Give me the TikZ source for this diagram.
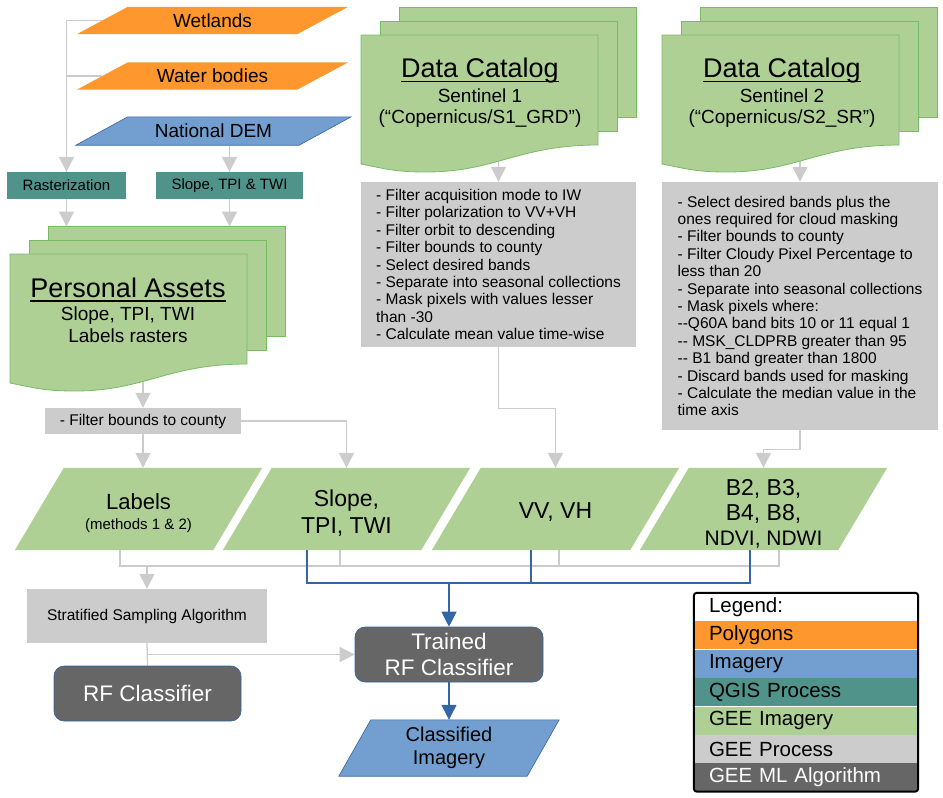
\documentclass[tikz,border=0pt]{standalone}
\usepackage{fontspec}
\setmainfont{Liberation Sans}
\usetikzlibrary{arrows.meta,positioning}

\definecolor{polyorange}{HTML}{FF972F}
\definecolor{imgblue}{HTML}{729FCF}
\definecolor{imgedge}{HTML}{3465A4}
\definecolor{qgisteal}{HTML}{50938A}
\definecolor{geegreen}{HTML}{AFD095}
\definecolor{geeedge}{HTML}{77BC65}
\definecolor{geegrey}{HTML}{CCCCCC}
\definecolor{mlgrey}{HTML}{666666}
\definecolor{linkgrey}{HTML}{CCCCCC}

\pgfdeclarelayer{background}
\pgfdeclarelayer{shapes}
\pgfsetlayers{background,shapes,main}

\tikzstyle{polyshape} = [rectangle, minimum width=220pt, minimum height=27pt, inner sep=1pt, font=\fontsize{19}{22}\selectfont]
\tikzstyle{imagery} = [fill=imgblue, draw=imgedge, line width=0.6pt]
\tikzstyle{qgis} = [rectangle, fill=qgisteal, minimum height=27pt, inner sep=1pt, font=\fontsize{15}{18}\selectfont]
\tikzstyle{geeimg} = [rectangle, minimum width=198pt, minimum height=82pt, inner sep=0pt]
\tikzstyle{geetext} = [inner sep=1pt, align=center, font=\fontsize{23}{27}\selectfont]
\tikzstyle{geeproc} = [rectangle, fill=geegrey, inner sep=1pt, align=left, font=\fontsize{15.5}{17.4}\selectfont]
\tikzstyle{geeml} = [rectangle, rounded corners=10pt, fill=mlgrey, draw=imgedge, line width=0.6pt, text=white, inner sep=2pt, align=center, font=\fontsize{22.5}{26}\selectfont]
\tikzstyle{sheet} = [fill=geegreen, draw=geeedge, line width=0.8pt]
\tikzstyle{doctitle} = [inner sep=0pt, font=\fontsize{27}{30}\selectfont]
\tikzstyle{docsub} = [inner sep=0pt, align=center, font=\fontsize{19}{20.5}\selectfont]
\tikzstyle{greylink} = [draw=linkgrey, line width=1.3pt]
\tikzstyle{greyarrow} = [greylink, -{Triangle[width=15pt,length=15pt]}]
\tikzstyle{bluelink} = [draw=imgedge, line width=1.2pt]
\tikzstyle{bluearrow} = [bluelink, -{Triangle[width=15pt,length=15pt]}]
\tikzstyle{legendrow} = [rectangle, minimum height=28pt, text width=194pt, inner xsep=15pt, inner ysep=0pt, align=left, font=\fontsize{20.5}{24}\selectfont]

% underlined heading with a thicker rule
\newsavebox\titlebox
\newcommand{\titleline}[1]{\sbox\titlebox{#1}\rlap{\rule[-4.5pt]{\wd\titlebox}{1.8pt}}\usebox\titlebox}

% parallelogram behind a node: node, half slant, path style
\newcommand{\parafill}[3]{%
  \path[#3] ([xshift=-#2pt]#1.south west) -- ([xshift=-#2pt]#1.south east)
    -- ([xshift=#2pt]#1.north east) -- ([xshift=#2pt]#1.north west) -- cycle;
}

% stack of three sheets, front sheet with wavy bottom
\newcommand{\docstack}[3]{%
  \filldraw[sheet] ({#2+38},{#3-27.5}) rectangle ++(237,110);
  \filldraw[sheet] ({#2+19},{#3-13.5}) rectangle ++(237,110);
  \filldraw[sheet] (#2,#3) -- ({#2+237},#3) -- ({#2+237},{#3+110})
    .. controls ({#2+157},{#3+110}) and ({#2+135},{#3+137}) .. ({#2+65},{#3+137})
    .. controls ({#2+35},{#3+137}) and ({#2+25},{#3+134}) .. (#2,{#3+129}) -- cycle;
  \coordinate (#1-top) at ({#2+38},{#3-27.5});
  \coordinate (#1-out) at ({#2+137},{#3+100});
}

\begin{document}
\begin{tikzpicture}[x=1pt,y=-1pt]
  \useasboundingbox (0,0) rectangle (943,798);

  % inputs
  \node[polyshape] (wetlands) at (212.5,20.5) {Wetlands};
  \node[polyshape] (water) at (212.5,76) {Water bodies};
  \node[polyshape, minimum width=223pt, minimum height=28pt] (dem) at (213.5,131) {National DEM};

  \node[qgis, minimum width=119pt] (raster) at (66.5,185.5) {Rasterization};
  \node[qgis, minimum width=147pt] (terrain) at (229.5,185.5) {Slope, TPI \& TWI};

  % asset and catalog stacks
  \docstack{pa}{10}{254}
  \node[doctitle] (pa_title) at (128,290) {\titleline{Personal Assets}};
  \node[docsub, font=\fontsize{19}{22}\selectfont] (pa_sub) at (128,325) {Slope, TPI, TWI\\Labels rasters};

  \docstack{s1}{361}{35}
  \node[doctitle] (s1_title) at (480,71) {\titleline{Data Catalog}};
  \node[docsub] (s1_sub) at (480,108) {Sentinel 1\\(“Copernicus/S1\_GRD”)};

  \docstack{s2}{662}{35}
  \node[doctitle] (s2_title) at (782,71) {\titleline{Data Catalog}};
  \node[docsub] (s2_sub) at (782,108) {Sentinel 2\\(“Copernicus/S2\_SR”)};

  % gee processing
  \node[geeproc, minimum width=196pt, minimum height=26pt] (filter) at (143,421) {- Filter bounds to county};
  \node[geeproc, minimum width=275pt, minimum height=165pt] (s1proc) at (498.5,264.5) {- Filter acquisition mode to IW\\- Filter polarization to VV+VH\\- Filter orbit to descending\\- Filter bounds to county\\- Select desired bands\\- Separate into seasonal collections\\- Mask pixels with values lesser\\than -30\\- Calculate mean value time-wise};
  \node[geeproc, minimum width=276pt, minimum height=248pt] (s2proc) at (800,306) {- Select desired bands plus the\\ones required for cloud masking\\- Filter bounds to county\\- Filter Cloudy Pixel Percentage to\\less than 20\\- Separate into seasonal collections\\- Mask pixels where:\\-{}-Q60A band bits 10 or 11 equal 1\\-{}- MSK\_CLDPRB greater than 95\\-{}- B1 band greater than 1800\\- Discard bands used for masking\\- Calculate the median value in the\\time axis};

  % gee imagery
  \node[geeimg] (labels) at (138.5,509) {};
  \node[geeimg] (slope) at (346.5,509) {};
  \node[geeimg] (vv) at (555.5,509) {};
  \node[geeimg] (b2) at (763.5,509) {};
  \node[geetext, font=\fontsize{22}{20}\selectfont] (labels_text) at ([yshift=-4pt]labels.center) {Labels\\{\fontsize{15}{17}\selectfont(methods 1 \& 2)}};
  \node[geetext] (slope_text) at ([yshift=-4pt]slope.center) {Slope,\\TPI, TWI};
  \node[geetext] (vv_text) at ([yshift=-3pt]vv.center) {VV, VH};
  \node[geetext, font=\fontsize{23}{25}\selectfont] (b2_text) at ([yshift=-5pt]b2.center) {B2, B3,\\B4, B8,\\{\fontsize{21}{25}\selectfont NDVI, NDWI}};

  % sampling and classifier
  \node[geeproc, align=center, minimum width=240pt, minimum height=54pt] (strat) at (147,616) {Stratified Sampling Algorithm};
  \node[geeml, minimum width=187pt, minimum height=55pt] (rf) at (147.5,693.5) {RF Classifier};
  \node[geeml, minimum width=188pt, minimum height=55pt] (trained) at (449,654.5) {Trained\\RF Classifier};
  \node[rectangle, minimum width=188pt, minimum height=56pt, inner sep=1pt, align=center, font=\fontsize{20}{23}\selectfont] (classified) at (449,748) {Classified\\Imagery};

  % parallelogram outlines
  \begin{pgfonlayer}{shapes}
    \parafill{wetlands}{25.5}{fill=polyorange}
    \parafill{water}{25.5}{fill=polyorange}
    \parafill{dem}{26}{imagery}
    \parafill{labels}{24.5}{fill=geegreen}
    \parafill{slope}{24.5}{fill=geegreen}
    \parafill{vv}{24.5}{fill=geegreen}
    \parafill{b2}{24.5}{fill=geegreen}
    \parafill{classified}{16}{imagery}
  \end{pgfonlayer}

  % legend
  \node[legendrow, fill=white] (leg_title) at (806,607) {Legend:};
  \node[legendrow, fill=polyorange, below=0pt of leg_title] (leg_poly) {Polygons};
  \node[legendrow, fill=imgblue, below=0pt of leg_poly] (leg_img) {Imagery};
  \node[legendrow, fill=qgisteal, below=0pt of leg_img] (leg_qgis) {QGIS Process};
  \node[legendrow, fill=geegreen, below=0pt of leg_qgis] (leg_geeimg) {GEE Imagery};
  \node[legendrow, fill=geegrey, below=0pt of leg_geeimg] (leg_geeproc) {GEE Process};
  \node[legendrow, fill=mlgrey, text=white, below=0pt of leg_geeproc] (leg_ml) {GEE ML Algorithm};
  \draw[line width=2pt, rounded corners=3pt] (leg_title.north west) rectangle (leg_ml.south east);

  % connectors
  \coordinate (bus_grey) at (0,566);
  \coordinate (bus_blue) at (0,583);
  \begin{pgfonlayer}{background}
    \draw[greyarrow] (wetlands.west) -| (raster.north);
    \draw[greylink] (water.west) -| (raster.north);
    \draw[greyarrow] (terrain.north |- dem.south) -- (terrain.north);
    \draw[greyarrow] (raster.south) -- (raster.south |- pa-top);
    \draw[greyarrow] (terrain.south) -- (terrain.south |- pa-top);
    \draw[greyarrow] (pa-out -| filter.north) -- (filter.north);
    \draw[greyarrow] (s1-out -| s1proc.north) -- (s1proc.north);
    \draw[greyarrow] (s2-out -| s2proc.north) -- (s2proc.north);

    \draw[greyarrow] (filter.south) -- (filter.south |- labels.north);
    \draw[greyarrow] (filter.east) -| (slope.north);
    \draw[greyarrow] (s1proc.south) -- ++(0,61) -| (vv.north);
    \draw[greyarrow] (s2proc.south) -- ++(0,19) -| (b2.north);

    \draw[greylink] ([xshift=-18.5pt]labels.south) |- ([xshift=15.5pt]b2.south |- bus_grey) -- ([xshift=15.5pt]b2.south);
    \draw[greylink] ([xshift=-6.5pt]slope.south) -- ([xshift=-6.5pt]slope.south |- bus_grey);
    \draw[greylink] ([xshift=3.5pt]vv.south) -- ([xshift=3.5pt]vv.south |- bus_grey);
    \draw[greyarrow] (strat.north |- bus_grey) -- (strat.north);

    \draw[bluelink] ([xshift=-39.5pt]slope.south) |- ([xshift=-13.5pt]b2.south |- bus_blue) -- ([xshift=-13.5pt]b2.south);
    \draw[bluelink] ([xshift=-24.5pt]vv.south) -- ([xshift=-24.5pt]vv.south |- bus_blue);
    \draw[bluearrow] (trained.north |- bus_blue) -- (trained.north);

    \draw[greylink] (strat.south) -- (rf.north);
    \coordinate (junction) at (strat.south |- trained.west);
    \draw[greyarrow] (junction) -- (trained.west);
    \draw[bluearrow] (trained.south) -- (classified.north);
  \end{pgfonlayer}
\end{tikzpicture}
\end{document}
